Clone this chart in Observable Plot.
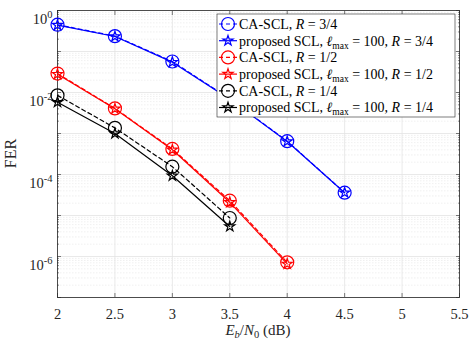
<!DOCTYPE html>
<html><head><meta charset="utf-8">
<script src="https://cdn.jsdelivr.net/npm/d3@7"></script>
<script src="https://cdn.jsdelivr.net/npm/@observablehq/plot@0.6"></script>
<style>
body{margin:0;background:#fff}
svg{font-family:"Liberation Serif","Times New Roman",serif}
</style>
</head><body><div id="chart"></div>
<script>
// ---- data ----
const ebn0 = [2, 2.5, 3, 3.5, 4, 4.5];
const caR34  = [0.45, 0.237, 0.057, 7.0e-3, 6.5e-4, 3.6e-5];
const prR34  = [0.44, 0.232, 0.055, 6.8e-3, 6.4e-4, 3.6e-5];
const caR12  = [0.029, 4.1e-3, 4.2e-4, 2.3e-5, 7.2e-7];
const prR12  = [0.028, 4.0e-3, 4.0e-4, 2.1e-5, 6.6e-7];
const caR14  = [8.5e-3, 1.37e-3, 1.55e-4, 8.7e-6];
const prR14  = [5.8e-3, 1.0e-3, 9.3e-5, 5.4e-6];
const xTicks = [2, 2.5, 3, 3.5, 4, 4.5, 5, 5.5];
const yExps = [-7, -6, -5, -4, -3, -2, -1, 0];
const yLabelExps = [-6, -4, -2, 0];
const seriesNames = ["caR34","prR34","caR12","prR12","caR14","prR14"];
const seriesColors = ["#0000ff","#0000ff","#ff0000","#ff0000","#000000","#000000"];
const rates = ["3/4", "3/4", "1/2", "1/2", "1/4", "1/4"];

const seriesVals = [caR34, prR34, caR12, prR12, caR14, prR14];
const rows = [];
seriesVals.forEach((vals, i) => vals.forEach((v, j) => rows.push({s: seriesNames[i], c: seriesColors[i], ca: i % 2 === 0, x: ebn0[j], y: v})));
const caRows = rows.filter(d => d.ca), prRows = rows.filter(d => !d.ca);

const majorY = yExps.map(e => Math.pow(10, e));
const minorY = [];
yExps.slice(0, -1).forEach(e => { for (let k = 2; k <= 9; k++) minorY.push(k * Math.pow(10, e)); });
const labelY = yLabelExps.map(e => Math.pow(10, e));

const grid = "#e3e3e3";
const plot = Plot.plot({
  width: 471, height: 344,
  marginLeft: 57, marginRight: 12, marginTop: 10, marginBottom: 47,
  style: {fontFamily: "Liberation Serif, serif", fontSize: "14.5px", background: "#fff", color: "#262626"},
  x: {domain: [2, 5.5]},
  y: {type: "log", domain: [1e-7, 1]},
  marks: [
    Plot.ruleY(minorY, {stroke: "#ececec", strokeWidth: 0.8, strokeDasharray: "1.5,1.5"}),
    Plot.ruleY(majorY, {stroke: grid, strokeWidth: 0.8}),
    Plot.ruleX(xTicks, {stroke: grid, strokeWidth: 0.8}),
    Plot.axisX(xTicks, {anchor: "bottom", tickSize: -4, tickPadding: 15, label: null, tickFormat: d => String(d), stroke: "#262626", strokeWidth: 0.6}),
    Plot.axisX(xTicks, {anchor: "top", tickSize: -4, label: null, tickFormat: () => "", strokeWidth: 0.6}),
    Plot.axisY(labelY, {anchor: "left", tickSize: 0, tickPadding: 5, label: null, tickFormat: d => "E" + String(Math.round(Math.log10(d)))}),
    Plot.axisY(majorY, {anchor: "left", tickSize: -4, label: null, tickFormat: () => "", strokeWidth: 0.6}),
    Plot.axisY(majorY, {anchor: "right", tickSize: -4, label: null, tickFormat: () => "", strokeWidth: 0.6}),
    Plot.axisY(minorY, {anchor: "left", tickSize: -2, label: null, tickFormat: () => "", strokeWidth: 0.5}),
    Plot.axisY(minorY, {anchor: "right", tickSize: -2, label: null, tickFormat: () => "", strokeWidth: 0.5}),
    Plot.frame({stroke: "#262626", strokeWidth: 0.8}),
    Plot.line(caRows, {x: "x", y: "y", z: "s", stroke: "c", strokeWidth: 1.2, strokeDasharray: "4,3"}),
    Plot.line(prRows, {x: "x", y: "y", z: "s", stroke: "c", strokeWidth: 1.2}),
    Plot.dot(caRows, {x: "x", y: "y", stroke: "c", r: 6.5, strokeWidth: 1.2, fill: "none"}),
    Plot.dot(prRows, {x: "x", y: "y", stroke: "c", symbol: "star", r: 3.2, strokeWidth: 1.2, fill: "none"})
  ]
});
document.getElementById("chart").appendChild(plot);

const svg = d3.select(plot);
// y tick labels as 10^k
svg.selectAll("text").each(function() {
  const t = d3.select(this);
  const s = t.text().trim();
  if (!/^E/.test(s)) return;
  const k = s.slice(1).replace("\u2212", "-");
  t.text("10");
  t.append("tspan").attr("dy", "-0.55em").attr("font-size", "10.5px").text(k);
  t.attr("dy", "0.62em");
});

// axis titles
const xs = plot.scale("x"), ys = plot.scale("y");
const cx = (xs.range[0] + xs.range[1]) / 2;
const xl = svg.append("text").attr("x", cx).attr("y", 335).attr("text-anchor", "middle").attr("font-size", "15px").attr("fill", "#262626");
xl.append("tspan").attr("font-style", "italic").text("E");
xl.append("tspan").attr("font-style", "italic").attr("font-size", "10.5px").attr("dy", "3").text("b");
xl.append("tspan").attr("dy", "-3").text("/");
xl.append("tspan").attr("font-style", "italic").text("N");
xl.append("tspan").attr("font-size", "10.5px").attr("dy", "3").text("0");
xl.append("tspan").attr("dy", "-3").text(" (dB)");

const cy = (ys.range[0] + ys.range[1]) / 2;
svg.append("text").attr("transform", `translate(16,${cy}) rotate(-90)`).attr("text-anchor", "middle").attr("font-size", "16px").attr("fill", "#262626").text("FER");

// legend
const lg = svg.append("g").attr("text-anchor", "start");
const lx = 217, ly = 14, lw = 238, lh = 103;
lg.append("rect").attr("x", lx).attr("y", ly).attr("width", lw).attr("height", lh).attr("fill", "#fff").attr("stroke", "#262626").attr("stroke-width", 0.6);
seriesNames.forEach((s, i) => {
  const yy = ly + 10 + i * 16.7;
  const g = lg.append("g");
  const col = seriesColors[i];
  g.append("line").attr("x1", lx + 2).attr("x2", lx + 20).attr("y1", yy).attr("y2", yy).attr("stroke", col).attr("stroke-width", 1.2).attr("stroke-dasharray", i % 2 === 0 ? "4,3" : null);
  if (i % 2 === 0) {
    g.append("circle").attr("cx", lx + 11).attr("cy", yy).attr("r", 6.5).attr("fill", "none").attr("stroke", col).attr("stroke-width", 1.2);
  } else {
    g.append("path").attr("d", d3.symbol(d3.symbolStar, Math.PI * 3.2 * 3.2)()).attr("transform", `translate(${lx + 11},${yy})`).attr("fill", "none").attr("stroke", col).attr("stroke-width", 1.2);
  }
  const t = g.append("text").attr("x", lx + 22).attr("y", yy).attr("dy", "0.35em").attr("text-anchor", "start").attr("font-size", "14px").attr("fill", "#000");
  if (i % 2 === 0) {
    t.append("tspan").text("CA-SCL, ");
  } else {
    t.append("tspan").text("proposed SCL, ");
    t.append("tspan").attr("font-style", "italic").text("\u2113");
    t.append("tspan").attr("font-size", "9.5px").attr("dy", "3").text("max");
    t.append("tspan").attr("dy", "-3").text(" = 100, ");
  }
  t.append("tspan").attr("font-style", "italic").text("R");
  t.append("tspan").text(" = " + rates[i]);
});
</script>
</body></html>
